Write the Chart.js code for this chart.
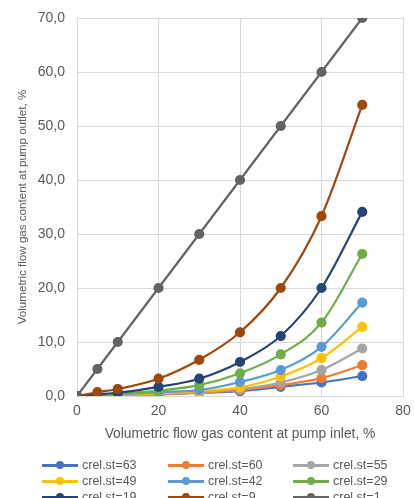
<!DOCTYPE html>
<html>
<head>
<meta charset="utf-8">
<script src="https://cdn.jsdelivr.net/npm/chart.js@4.4.1/dist/chart.umd.min.js"></script>
<style>
  html, body { margin: 0; padding: 0; background: #fff; }
  #wrap { position: relative; width: 414px; height: 498px; overflow: hidden; }
  #legend {
    position: absolute; left: 42px; top: 457px; width: 372px;
    display: grid; grid-template-columns: 126px 125px 121px;
    font: 12.5px "Liberation Sans", Arial, sans-serif; color: #595959;
  }
  .item { display: flex; align-items: center; height: 16px; }
  .swatch { position: relative; width: 36px; height: 3px; margin-right: 4px; flex: none; }
  .swatch i { position: absolute; left: 14px; top: -2.5px; width: 8px; height: 8px; border-radius: 50%; }
</style>
</head>
<body>
<div id="wrap">
  <canvas id="gas-chart" width="414" height="498"></canvas>
  <div id="legend"></div>
</div>
<script>
// Inlet gas content, % (x values)
const inlet = [0, 5, 10, 20, 30, 40, 50, 60, 70];

const seriesNames = ['crel.st=63', 'crel.st=60', 'crel.st=55', 'crel.st=49', 'crel.st=42',
                     'crel.st=29', 'crel.st=19', 'crel.st=9', 'crel.st=1'];
const seriesColors = ['#4472C4', '#ED7D31', '#A5A5A5', '#FFC000', '#5B9BD5',
                      '#70AD47', '#264478', '#9E480E', '#636363'];

// Outlet gas content, % for each relative pressure
const crel63 = [0, 0.05, 0.1, 0.3, 0.6, 0.9, 1.7, 2.5, 3.7];
const crel60 = [0, 0.05, 0.1, 0.3, 0.6, 1.1, 2.0, 3.3, 5.7];
const crel55 = [0, 0.05, 0.15, 0.4, 0.8, 1.3, 2.5, 4.8, 8.8];
const crel49 = [0, 0.1, 0.2, 0.5, 0.9, 1.6, 3.6, 7.0, 12.8];
const crel42 = [0, 0.1, 0.3, 0.7, 1.1, 2.6, 4.8, 9.1, 17.3];
const crel29 = [0, 0.2, 0.4, 1.0, 2.0, 4.2, 7.7, 13.6, 26.3];
const crel19 = [0, 0.3, 0.6, 1.7, 3.2, 6.3, 11.1, 20.0, 34.1];
const crel9 = [0, 0.7, 1.3, 3.2, 6.7, 11.8, 20.0, 33.3, 53.9];
const crel1 = [0, 5, 10, 20, 30, 40, 50, 60, 70];

const outlet = [crel63, crel60, crel55, crel49, crel42, crel29, crel19, crel9, crel1];

const xTicks = [0, 20, 40, 60, 80];
const yTicks = [0, 10, 20, 30, 40, 50, 60, 70];

const FONT = '"Liberation Sans", Arial, sans-serif';
const TEXT = '#595959';
const GRID = '#d9d9d9';

const datasets = outlet.map(function(vals, i) {
    return {
        label: seriesNames[i],
        data: vals.map(function(v, k) { return { x: inlet[k], y: v }; }),
        borderColor: seriesColors[i],
        backgroundColor: seriesColors[i],
        borderWidth: 2.2,
        pointRadius: 4,
        pointHoverRadius: 4,
        tension: 0.35,
        cubicInterpolationMode: 'monotone',
        order: outlet.length - i   // later series sit on top
    };
});

new Chart(document.getElementById('gas-chart').getContext('2d'), {
    type: 'line',
    data: { datasets: datasets },
    options: {
        responsive: false,
        animation: false,
        events: [],
        layout: { padding: { top: 18, right: 11, bottom: 52, left: 0 } },
        plugins: { legend: { display: false }, tooltip: { enabled: false } },
        scales: {
            x: {
                type: 'linear',
                min: 0, max: 80,
                afterBuildTicks: function(s) { s.ticks = xTicks.map(function(v) { return { value: v }; }); },
                afterFit: function(s) { s.height = 50; s.paddingLeft = 0; s.paddingRight = 0; },
                grid: { color: GRID, drawTicks: false },
                border: { color: GRID },
                ticks: { color: TEXT, font: { family: FONT, size: 14 }, padding: 7 },
                title: {
                    display: true,
                    text: 'Volumetric flow gas content at pump inlet, %',
                    color: TEXT, font: { family: FONT, size: 13.8 }, padding: { top: 2 }
                }
            },
            y: {
                type: 'linear',
                min: 0, max: 70,
                afterBuildTicks: function(s) { s.ticks = yTicks.map(function(v) { return { value: v }; }); },
                afterFit: function(s) { s.width = 77; s.paddingTop = 0; s.paddingBottom = 0; },
                grid: { color: GRID, drawTicks: false },
                border: { color: GRID },
                ticks: {
                    color: TEXT, font: { family: FONT, size: 14 }, padding: 12,
                    callback: function(v) { return v.toFixed(1).replace('.', ','); }
                },
                title: {
                    display: true,
                    text: 'Volumetric flow gas content at pump outlet, %',
                    color: TEXT, font: { family: FONT, size: 11.6 }, padding: { top: 16, bottom: 0 }
                }
            }
        }
    }
});

// Legend in three columns under the plot
const legend = document.getElementById('legend');
seriesNames.forEach(function(name, i) {
    const item = document.createElement('div');
    item.className = 'item';
    item.innerHTML = '<span class="swatch" style="background:' + seriesColors[i] + '"><i style="background:' +
        seriesColors[i] + '"></i></span><span>' + name + '</span>';
    legend.appendChild(item);
});
</script>
</body>
</html>
